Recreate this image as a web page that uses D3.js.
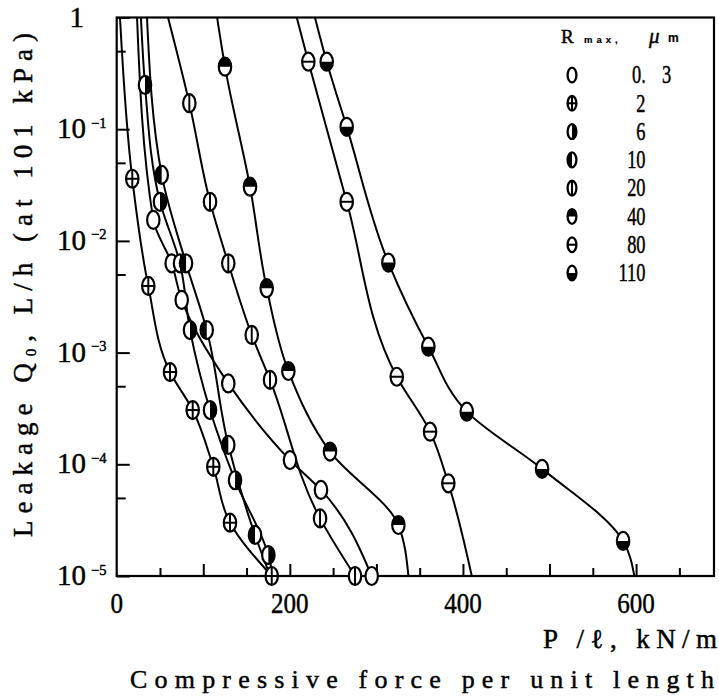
<!DOCTYPE html>
<html>
<head>
<meta charset="utf-8">
<script src="https://cdn.jsdelivr.net/npm/d3@7"></script>
<style>
  html, body { margin: 0; padding: 0; background: #fff; }
  svg { display: block; }
  text { stroke: #000; stroke-width: 0.45px; }
</style>
</head>
<body>
<script>
// Leakage Q0 against compressive force per unit length, one curve per surface roughness Rmax.
const rmaxLabels = ["0.3", "2", "6", "10", "20", "40", "80", "110"];

// Measured points (P/l in kN/m, leakage in L/h)
const force03  = [42.3, 63.5, 75.1, 128.9, 200.2, 236.0, 294.6];
const leak03   = [1.54e-2, 6.3e-3, 2.96e-3, 5.3e-4, 1.09e-4, 5.9e-5, 1e-5];

const force2   = [18.0, 36.5, 61.6, 87.8, 111.6, 130.9, 179.1];
const leak2    = [3.6e-2, 3.95e-3, 6.7e-4, 3.06e-4, 9.5e-5, 3.0e-5, 1e-5];

const force6   = [32.7, 50.0, 73.1, 84.7, 107.8, 136.7, 175.2];
const leak6    = [0.249, 2.24e-2, 6.3e-3, 1.59e-3, 3.06e-4, 7.2e-5, 1.54e-5];

const force10  = [52.0, 80.1, 104.0, 128.9, 159.8];
const leak10   = [3.9e-2, 6.3e-3, 1.59e-3, 1.49e-4, 2.33e-5];

const force20  = [83.9, 107.8, 128.9, 156.0, 177.1, 234.9, 275.3];
const leak20   = [0.171, 2.24e-2, 6.3e-3, 1.44e-3, 5.7e-4, 3.28e-5, 1e-5];

const force40  = [125.1, 154.0, 173.3, 198.3, 246.4, 325.4];
const leak40   = [0.363, 3.06e-2, 3.77e-3, 6.84e-4, 1.30e-4, 2.86e-5];

const force80  = [221.4, 265.7, 323.5, 362.0, 383.1];
const leak80   = [0.402, 2.24e-2, 6.08e-4, 1.96e-4, 6.76e-5];

const force110 = [242.6, 265.7, 313.8, 360.0, 404.4, 491.4, 585.0];
const leak110  = [0.402, 0.105, 6.4e-3, 1.13e-3, 2.96e-4, 9.1e-5, 2.06e-5];

// Where each fitted curve leaves the frame: force at Q = 1 (top) and at Q = 1e-5 (bottom)
const curveTopForce    = [23.5, 3.8, 28, 35, 59.3, 116, 208, 229];
const curveBottomForce = [null, null, 180.6, 177.4, null, 337, 410.2, 598];

// Axis ticks
const xLabelValues = [0, 200, 400, 600];
const xMinorStep = 50;
const yExponents = [0, -1, -2, -3, -4, -5];

const forces = [force03, force2, force6, force10, force20, force40, force80, force110];
const leaks  = [leak03, leak2, leak6, leak10, leak20, leak40, leak80, leak110];
const markerKinds = ["open", "cross", "right", "left", "vline", "top", "hline", "bottom"];

const W = 719, H = 700;
const plot = { left: 116.7, right: 714, top: 17.5, bottom: 576 };

const x = d3.scaleLinear().domain([0, 690]).range([plot.left, plot.right]);
const y = d3.scaleLog().domain([1e-5, 1]).range([plot.bottom, plot.top]);

const svg = d3.select("body").append("svg")
  .attr("width", W).attr("height", H)
  .attr("viewBox", `0 0 ${W} ${H}`);

const serif = "'Liberation Serif', 'DejaVu Serif', serif";

// squeeze text horizontally to get the narrow typewriter-like digits
function condense(sel, factor) {
  sel.each(function () {
    const w = this.getComputedTextLength();
    d3.select(this).attr("textLength", w * factor).attr("lengthAdjust", "spacingAndGlyphs");
  });
  return sel;
}

svg.append("defs").append("clipPath").attr("id", "plotClip")
  .append("rect")
  .attr("x", plot.left).attr("y", plot.top)
  .attr("width", plot.right - plot.left).attr("height", plot.bottom - plot.top);

// ---- axes (ticks point into the plot) ----
const xMinorTicks = d3.range(0, 690, xMinorStep).filter(v => v % 100 !== 0);
const xMajorTicks = d3.range(100, 690, 100);

const xAxisMinor = d3.axisBottom(x).tickValues(xMinorTicks).tickSize(-8).tickFormat("");
const xAxisMajor = d3.axisBottom(x).tickValues(xMajorTicks).tickSize(-12).tickFormat("");
[xAxisMinor, xAxisMajor].forEach(ax => {
  const g = svg.append("g").attr("transform", `translate(0,${plot.bottom})`).call(ax);
  g.select(".domain").remove();
  g.selectAll("line").attr("stroke", "#000").attr("stroke-width", 2);
});

const yMajorVals = yExponents.map(e => Math.pow(10, e));
const yMinorVals = yExponents.slice(1).map(e => 5 * Math.pow(10, e));
const yAxisMajor = d3.axisLeft(y).tickValues(yMajorVals).tickSize(-13).tickFormat("");
const yAxisMinor = d3.axisLeft(y).tickValues(yMinorVals).tickSize(-9).tickFormat("");
[yAxisMajor, yAxisMinor].forEach(ax => {
  const g = svg.append("g").attr("transform", `translate(${plot.left},0)`).call(ax);
  g.select(".domain").remove();
  g.selectAll("line").attr("stroke", "#000").attr("stroke-width", 2);
});

// frame
svg.append("rect")
  .attr("x", plot.left).attr("y", plot.top)
  .attr("width", plot.right - plot.left).attr("height", plot.bottom - plot.top)
  .attr("fill", "none").attr("stroke", "#000").attr("stroke-width", 2.2);

// x tick labels
svg.append("g").selectAll("text").data(xLabelValues).join("text")
  .attr("x", d => x(d)).attr("y", 613)
  .attr("text-anchor", "middle")
  .attr("font-family", serif).attr("font-size", 29.5)
  .text(d => d)
  .call(condense, 0.85);

// y tick labels: "1" then 10^-n
const yl = svg.append("g").attr("font-family", serif).attr("fill", "#000");
yExponents.forEach(e => {
  const ty = y(Math.pow(10, e));
  if (e === 0) {
    yl.append("text").attr("x", 84).attr("y", ty + 9.5)
      .attr("text-anchor", "end").attr("font-size", 29).text("1");
  } else {
    yl.append("text").attr("x", 57).attr("y", ty + 9)
      .attr("font-size", 29).text("10");
    yl.append("text").attr("x", 91).attr("y", ty - 1.5)
      .attr("font-size", 14.5).text("\u2212" + (-e));
  }
});

// axis titles
const yTitle = svg.append("text")
  .attr("transform", "translate(32,537) rotate(-90)")
  .attr("font-family", serif).attr("font-size", 27)
  .attr("textLength", 504).attr("lengthAdjust", "spacing");
yTitle.append("tspan").text("Leakage Q");
yTitle.append("tspan").attr("font-size", 15).attr("dy", 4).text("0");
yTitle.append("tspan").attr("dy", -4).text(", L/h (at 101 kPa)");

svg.append("text")
  .attr("x", 543).attr("y", 648)
  .attr("font-family", serif).attr("font-size", 27)
  .attr("textLength", 174).attr("lengthAdjust", "spacing")
  .text("P /\u2113, kN/m");

svg.append("text")
  .attr("x", 130).attr("y", 688)
  .attr("font-family", serif).attr("font-size", 26)
  .attr("textLength", 584).attr("lengthAdjust", "spacing")
  .text("Compressive force per unit length");

// ---- markers ----
function drawMarker(g, kind, rx, ry, sw) {
  g.append("ellipse").attr("rx", rx).attr("ry", ry).attr("fill", "#fff");
  const half = {
    right:  `M0,${-ry}A${rx},${ry} 0 0 1 0,${ry}Z`,
    left:   `M0,${-ry}A${rx},${ry} 0 0 0 0,${ry}Z`,
    top:    `M${-rx},0A${rx},${ry} 0 0 1 ${rx},0Z`,
    bottom: `M${-rx},0A${rx},${ry} 0 0 0 ${rx},0Z`
  };
  if (half[kind]) g.append("path").attr("d", half[kind]).attr("fill", "#000");
  const lines = [];
  if (kind === "cross" || kind === "vline") lines.push(`M0,${-ry}V${ry}`);
  if (kind === "cross" || kind === "hline") lines.push(`M${-rx},0H${rx}`);
  lines.forEach(d => g.append("path").attr("d", d).attr("stroke", "#000").attr("stroke-width", sw * 0.9));
  g.append("ellipse").attr("rx", rx).attr("ry", ry)
    .attr("fill", "none").attr("stroke", "#000").attr("stroke-width", sw);
}

// ---- curves ----
const line = d3.line()
  .x(d => x(d[0])).y(d => y(d[1]))
  .curve(d3.curveMonotoneY);

const curves = svg.append("g").attr("clip-path", "url(#plotClip)");
const markersG = svg.append("g");

rmaxLabels.forEach((label, i) => {
  const pts = forces[i].map((f, k) => [f, leaks[i][k]]);
  const path = [[curveTopForce[i], 1], ...pts];
  if (curveBottomForce[i] !== null) path.push([curveBottomForce[i], 1e-5]);
  curves.append("path")
    .attr("d", line(path))
    .attr("fill", "none").attr("stroke", "#000").attr("stroke-width", 2);

  pts.forEach(p => {
    const g = markersG.append("g").attr("transform", `translate(${x(p[0])},${y(p[1])})`);
    drawMarker(g, markerKinds[i], 6.2, 9, 2.2);
  });
});

// ---- legend ----
const lg = svg.append("g");
lg.append("text").attr("x", 561).attr("y", 43)
  .attr("font-family", serif).attr("font-size", 19).text("R");
lg.append("text").attr("x", 584).attr("y", 43)
  .attr("font-family", "'Liberation Sans', Arial, sans-serif").attr("font-weight", "bold")
  .attr("font-size", 9.5).attr("letter-spacing", 4).style("stroke-width", "0.2px").text("max,");
lg.append("text").attr("x", 649).attr("y", 43)
  .attr("font-family", serif).attr("font-style", "italic").attr("font-size", 21).text("\u03bc");
lg.append("text").attr("x", 668).attr("y", 42)
  .attr("font-family", "'Liberation Sans', Arial, sans-serif").attr("font-weight", "bold")
  .attr("font-size", 12).style("stroke-width", "0.2px").text("m");

const rowY = d3.scaleLinear().domain([0, rmaxLabels.length - 1]).range([75, 273]);
rmaxLabels.forEach((label, i) => {
  const cy = rowY(i);
  const g = lg.append("g").attr("transform", `translate(572,${cy})`);
  drawMarker(g, markerKinds[i], 4.4, 7.4, 2.3);
  const [whole, frac] = label.split(".");
  const addText = (tx, str, anchor) => condense(
    lg.append("text").attr("x", tx).attr("y", cy + 8.3)
      .attr("text-anchor", anchor)
      .attr("font-family", serif).attr("font-size", 24.5).text(str), 0.75);
  if (frac !== undefined) {
    addText(632, whole + ".", "start");
    addText(662, frac, "start");
  } else {
    addText(645.5, whole, "end");
  }
});
</script>
</body>
</html>
